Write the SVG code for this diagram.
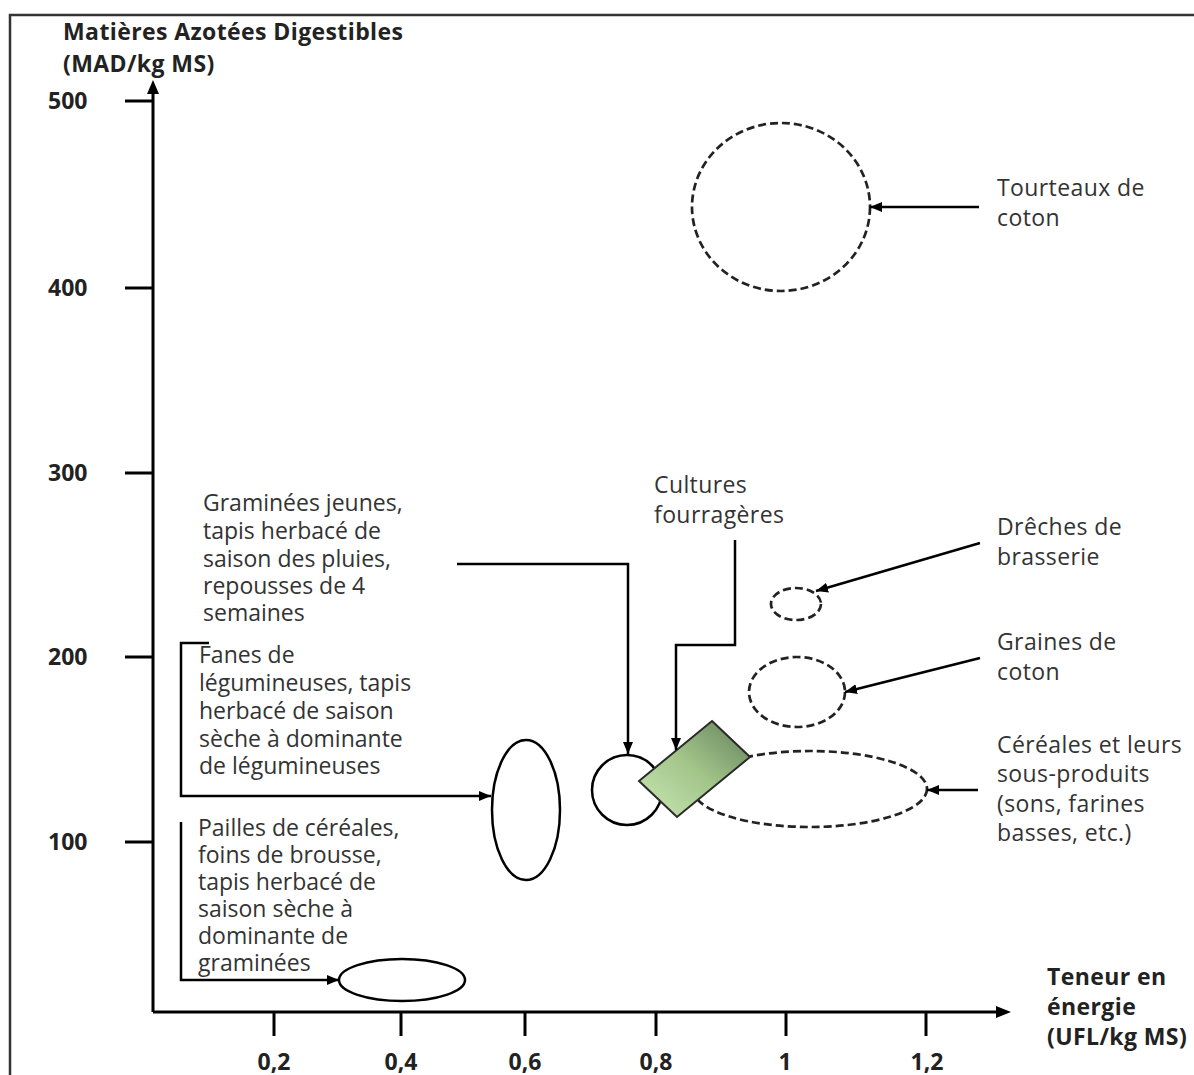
<svg xmlns="http://www.w3.org/2000/svg" width="1194" height="1075" viewBox="0 0 1194 1075">
<defs>
<style>
.lbl{font-family:"Open Sans","Liberation Sans",sans-serif;font-size:23px;fill:#333;}
.rl{letter-spacing:0.4px;}
.bold{font-family:"Open Sans","Liberation Sans",sans-serif;font-size:23px;font-weight:bold;fill:#222;}
.ttl{letter-spacing:0.4px;}
.ax{stroke:#000;stroke-width:3;fill:none;}
.con{stroke:#000;stroke-width:2.5;fill:none;marker-end:url(#ah);}
.solid{stroke:#000;stroke-width:2.5;fill:none;}
.dash{stroke:#222;stroke-width:2.7;fill:none;stroke-dasharray:8 4;}
</style>
<marker id="ah" viewBox="0 0 12 10" refX="12" refY="5" markerWidth="12" markerHeight="10" markerUnits="userSpaceOnUse" orient="auto">
<path d="M0,0 L12,5 L0,10 z" fill="#000"/>
</marker>
<linearGradient id="green" x1="0" y1="1" x2="1" y2="0">
<stop offset="0" stop-color="#c9e8b4"/>
<stop offset="0.5" stop-color="#a2c58a"/>
<stop offset="1" stop-color="#62805a"/>
</linearGradient>
</defs>
<rect width="1194" height="1075" fill="#fff"/>
<g id="frame">
<path d="M10,1075 L10,15 L1194,15" stroke="#333" stroke-width="2.5" fill="none"/>
</g>
<g id="axes">
<line class="ax" x1="153" y1="1012" x2="153" y2="92"/>
<path d="M147,94 L153,80 L159,94 z" fill="#000"/>
<line class="ax" x1="153" y1="1012" x2="998" y2="1012"/>
<path d="M996,1006 L1011,1012 L996,1018 z" fill="#000"/>
<g class="ax">
<line x1="125" y1="101" x2="153" y2="101"/>
<line x1="125" y1="288" x2="153" y2="288"/>
<line x1="125" y1="473" x2="153" y2="473"/>
<line x1="125" y1="657" x2="153" y2="657"/>
<line x1="125" y1="842" x2="153" y2="842"/>
<line x1="274" y1="1012" x2="274" y2="1036"/>
<line x1="401" y1="1012" x2="401" y2="1036"/>
<line x1="525" y1="1012" x2="525" y2="1036"/>
<line x1="656" y1="1012" x2="656" y2="1036"/>
<line x1="786" y1="1012" x2="786" y2="1036"/>
<line x1="926" y1="1012" x2="926" y2="1036"/>
</g>
<text class="bold ttl" x="63" y="40">Matières Azotées Digestibles</text>
<text class="bold ttl" x="63" y="72">(MAD/kg MS)</text>
<text class="bold" x="48" y="109">500</text>
<text class="bold" x="48" y="296">400</text>
<text class="bold" x="48" y="481">300</text>
<text class="bold" x="48" y="665">200</text>
<text class="bold" x="48" y="850">100</text>
<g text-anchor="middle">
<text class="bold" x="274" y="1070">0,2</text>
<text class="bold" x="401" y="1070">0,4</text>
<text class="bold" x="525" y="1070">0,6</text>
<text class="bold" x="656" y="1070">0,8</text>
<text class="bold" x="785" y="1070">1</text>
<text class="bold" x="927" y="1070">1,2</text>
</g>
<text class="bold ttl" x="1047" y="985">Teneur en</text>
<text class="bold ttl" x="1047" y="1015">énergie</text>
<text class="bold ttl" x="1047" y="1045">(UFL/kg MS)</text>
</g>
<g id="n-tourteaux">
<ellipse class="dash" cx="781" cy="207" rx="89" ry="84"/>
<text class="lbl rl" x="997" y="196">Tourteaux de</text>
<text class="lbl rl" x="997" y="226">coton</text>
</g>
<g id="n-dreches">
<ellipse class="dash" cx="796" cy="604" rx="25" ry="16"/>
<text class="lbl rl" x="997" y="535">Drêches de</text>
<text class="lbl rl" x="997" y="565">brasserie</text>
</g>
<g id="n-graines">
<ellipse class="dash" cx="797" cy="692" rx="48" ry="35"/>
<text class="lbl rl" x="997" y="650">Graines de</text>
<text class="lbl rl" x="997" y="680">coton</text>
</g>
<g id="n-cereales">
<ellipse class="dash" cx="810" cy="789" rx="117" ry="38"/>
<text class="lbl rl" x="997" y="753">Céréales et leurs</text>
<text class="lbl rl" x="997" y="782">sous-produits</text>
<text class="lbl rl" x="997" y="812">(sons, farines</text>
<text class="lbl rl" x="997" y="841">basses, etc.)</text>
</g>
<g id="n-graminees-jeunes">
<circle class="solid" cx="627" cy="790" r="35"/>
<text class="lbl" x="203" y="511">Graminées jeunes,</text>
<text class="lbl" x="203" y="539">tapis herbacé de</text>
<text class="lbl" x="203" y="567">saison des pluies,</text>
<text class="lbl" x="203" y="594">repousses de 4</text>
<text class="lbl" x="203" y="621">semaines</text>
</g>
<g id="n-cultures">
<polygon points="712,721 750,757 677,817 639,781" fill="url(#green)" stroke="#2a2a2a" stroke-width="2"/>
<text class="lbl rl" x="654" y="493">Cultures</text>
<text class="lbl rl" x="654" y="523">fourragères</text>
</g>
<g id="n-fanes">
<ellipse class="solid" cx="526" cy="810" rx="34" ry="70"/>
<text class="lbl" x="199" y="663">Fanes de</text>
<text class="lbl" x="199" y="691">légumineuses, tapis</text>
<text class="lbl" x="199" y="719">herbacé de saison</text>
<text class="lbl" x="199" y="747">sèche à dominante</text>
<text class="lbl" x="199" y="774">de légumineuses</text>
</g>
<g id="n-pailles">
<ellipse class="solid" cx="402" cy="980" rx="63" ry="21"/>
<text class="lbl" x="198" y="836">Pailles de céréales,</text>
<text class="lbl" x="198" y="863">foins de brousse,</text>
<text class="lbl" x="198" y="890">tapis herbacé de</text>
<text class="lbl" x="198" y="917">saison sèche à</text>
<text class="lbl" x="198" y="944">dominante de</text>
<text class="lbl" x="198" y="971">graminées</text>
</g>
<g id="connectors">
<path class="con" d="M979,207 L870,207"/>
<path class="con" d="M980,543 L816,591"/>
<path class="con" d="M980,658 L845,692"/>
<path class="con" d="M978,790 L927,790"/>
<path class="con" d="M457,564 L628,564 L628,754"/>
<path class="con" d="M735,540 L735,645 L676,645 L676,750"/>
<path class="con" d="M209,643 L181,643 L181,796 L491,796"/>
<path class="con" d="M181,822 L181,980 L339,980"/>
</g>
</svg>
